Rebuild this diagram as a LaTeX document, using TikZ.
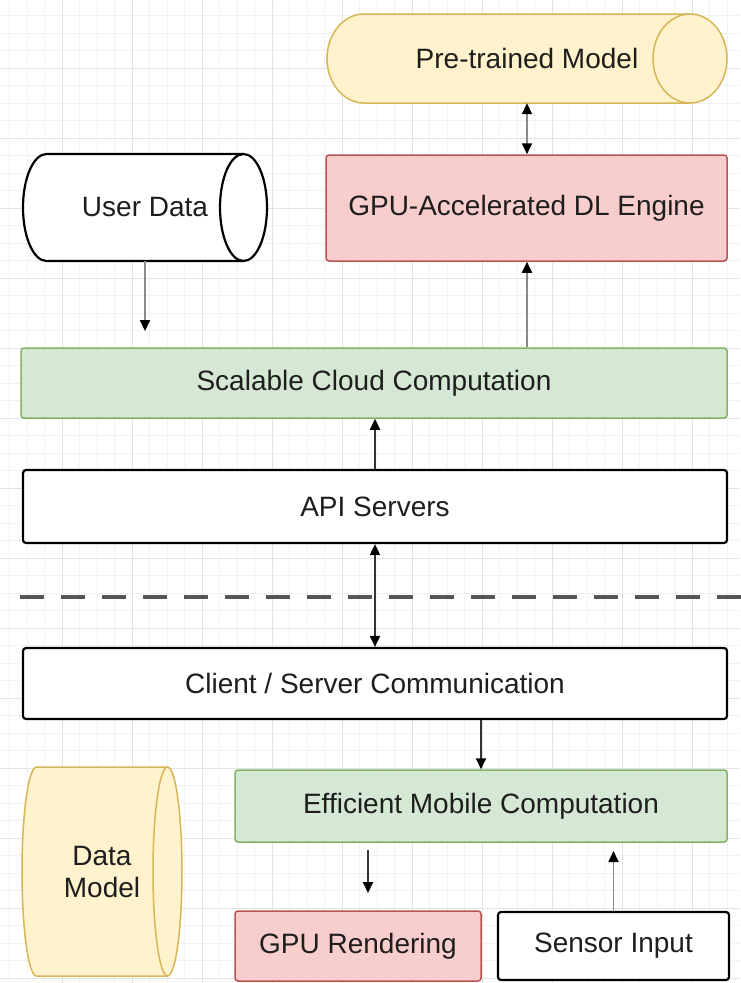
\documentclass[tikz,border=0pt]{standalone}
\usepackage{fontspec}
\setmainfont{Liberation Sans}
\usetikzlibrary{arrows.meta}
\definecolor{yfill}{HTML}{FFF2CC}
\definecolor{ystroke}{HTML}{D6B656}
\definecolor{rfill}{HTML}{F8CECC}
\definecolor{rstroke}{HTML}{B85450}
\definecolor{gfill}{HTML}{D5E8D4}
\definecolor{gstroke}{HTML}{82B366}
\definecolor{txt}{HTML}{1E1E1E}
\definecolor{lingray}{HTML}{8A8A8A}
\definecolor{lindark}{HTML}{333333}
\definecolor{dashcol}{HTML}{555555}
\definecolor{gridmajor}{HTML}{E3E3E3}
\definecolor{gridminor}{HTML}{F2F2F2}
\begin{document}
\begin{tikzpicture}[x=1pt,y=-1pt,
  lbl/.style={font=\fontsize{28}{32}\selectfont, text=txt, align=center, inner sep=0pt},
  box/.style={lbl, rectangle, rounded corners=3pt},
  greenbox/.style={box, draw=gstroke, fill=gfill, line width=1.5pt},
  redbox/.style={box, draw=rstroke, fill=rfill, line width=1.5pt},
  whitebox/.style={box, draw=black, fill=white, line width=2.2pt},
  cylnode/.style={lbl, rectangle},
  ycyl/.style={draw=ystroke, fill=yfill, line width=1.5pt},
  kcyl/.style={draw=black, fill=white, line width=2.2pt},
  arrgray/.style={draw=lingray, line width=1.8pt, -{Triangle[length=11pt,width=10pt,color=black]}},
  arrdark/.style={draw=lindark, line width=1.8pt, -{Triangle[length=11pt,width=10pt,color=black]}},
  arrgraytwo/.style={draw=lingray, line width=1.8pt, {Triangle[length=11pt,width=10pt,color=black]}-{Triangle[length=11pt,width=10pt,color=black]}},
  arrdarktwo/.style={draw=lindark, line width=1.8pt, {Triangle[length=11pt,width=10pt,color=black]}-{Triangle[length=11pt,width=10pt,color=black]}},
  dashline/.style={draw=dashcol, line width=4.5pt, dash pattern=on 24pt off 17pt}
]
% background and grid
\fill[white] (0,0) rectangle (740,983);
\useasboundingbox (0,0) rectangle (740,983);
\foreach \i in {0,...,43} {
  \draw[gridminor, line width=0.6pt] ({-8+17.5*\i},0) -- ({-8+17.5*\i},983);
}
\foreach \i in {0,...,57} {
  \draw[gridminor, line width=0.6pt] (0,{-2+17.5*\i}) -- (740,{-2+17.5*\i});
}
\foreach \i in {0,...,11} {
  \draw[gridmajor, line width=0.8pt] ({-8+70*\i},0) -- ({-8+70*\i},983);
}
\foreach \i in {0,...,14} {
  \draw[gridmajor, line width=0.8pt] (0,{-2+70*\i}) -- (740,{-2+70*\i});
}

% Pre-trained Model cylinder
\path[ycyl] (364,14) -- (690,14) arc[start angle=-90,end angle=90,x radius=37,y radius=44.5]
  -- (364,103) arc[start angle=90,end angle=270,x radius=37,y radius=44.5] -- cycle;
\draw[ycyl, fill=none] (690,14) arc[start angle=270,end angle=90,x radius=37,y radius=44.5];
\node[cylnode, minimum width=400pt, minimum height=89pt] (ptm) at (527,58.5) {Pre-trained Model};

% User Data cylinder
\path[kcyl] (46.5,154) -- (243.5,154) arc[start angle=-90,end angle=90,x radius=23.5,y radius=53.5]
  -- (46.5,261) arc[start angle=90,end angle=270,x radius=23.5,y radius=53.5] -- cycle;
\draw[kcyl, fill=none] (243.5,154) arc[start angle=270,end angle=90,x radius=23.5,y radius=53.5];
\node[cylnode, minimum width=244pt, minimum height=107pt] (ud) at (145,207.5) {User Data};

% Data Model cylinder
\path[ycyl] (36.5,767) -- (167.5,767) arc[start angle=-90,end angle=90,x radius=14.5,y radius=104.5]
  -- (36.5,976) arc[start angle=90,end angle=270,x radius=14.5,y radius=104.5] -- cycle;
\draw[ycyl, fill=none] (167.5,767) arc[start angle=270,end angle=90,x radius=14.5,y radius=104.5];
\node[cylnode, minimum width=160pt, minimum height=209pt] (dm) at (102,871.5) {Data\\Model};

% boxes
\node[redbox, minimum width=401pt, minimum height=106pt] (gpu) at (526.5,208) {GPU-Accelerated DL Engine};
\node[greenbox, minimum width=706pt, minimum height=70pt] (scc) at (374,383) {Scalable Cloud Computation};
\node[whitebox, minimum width=704pt, minimum height=73pt] (api) at (375,506.5) {API Servers};
\node[whitebox, minimum width=704pt, minimum height=71pt] (client) at (375,683.5) {Client / Server Communication};
\node[greenbox, minimum width=492pt, minimum height=72pt] (eff) at (481,806) {Efficient Mobile Computation};
\node[redbox, minimum width=246pt, minimum height=70pt] (gpr) at (358,946) {GPU Rendering};
\node[whitebox, minimum width=231pt, minimum height=68pt] (sensor) at (613.5,946) {Sensor Input};

% free ends
\coordinate (udend) at (145,331);
\coordinate (effbot) at (368,850);
\coordinate (gprtop) at (368,893);
\coordinate (effin) at (613.5,851);
\coordinate (dl) at (20,597);
\coordinate (dr) at (745,597);

% connectors
\draw[arrgraytwo] (ptm.south) -- (gpu.north -| ptm.south);
\draw[arrgray] (ud.south) -- (udend);
\draw[arrgray] (scc.north -| ptm.south) -- (gpu.south -| ptm.south);
\draw[arrdark] (api.north) -- (api.north |- scc.south);
\draw[arrdarktwo] (client.north) -- (client.north |- api.south);
\draw[dashline] (dl) -- (dr);
\draw[arrdark] (client.south -| eff.north) -- (eff.north);
\draw[arrdark] (effbot) -- (gprtop);
\draw[arrgray] (sensor.north) -- (effin);
\end{tikzpicture}
\end{document}
